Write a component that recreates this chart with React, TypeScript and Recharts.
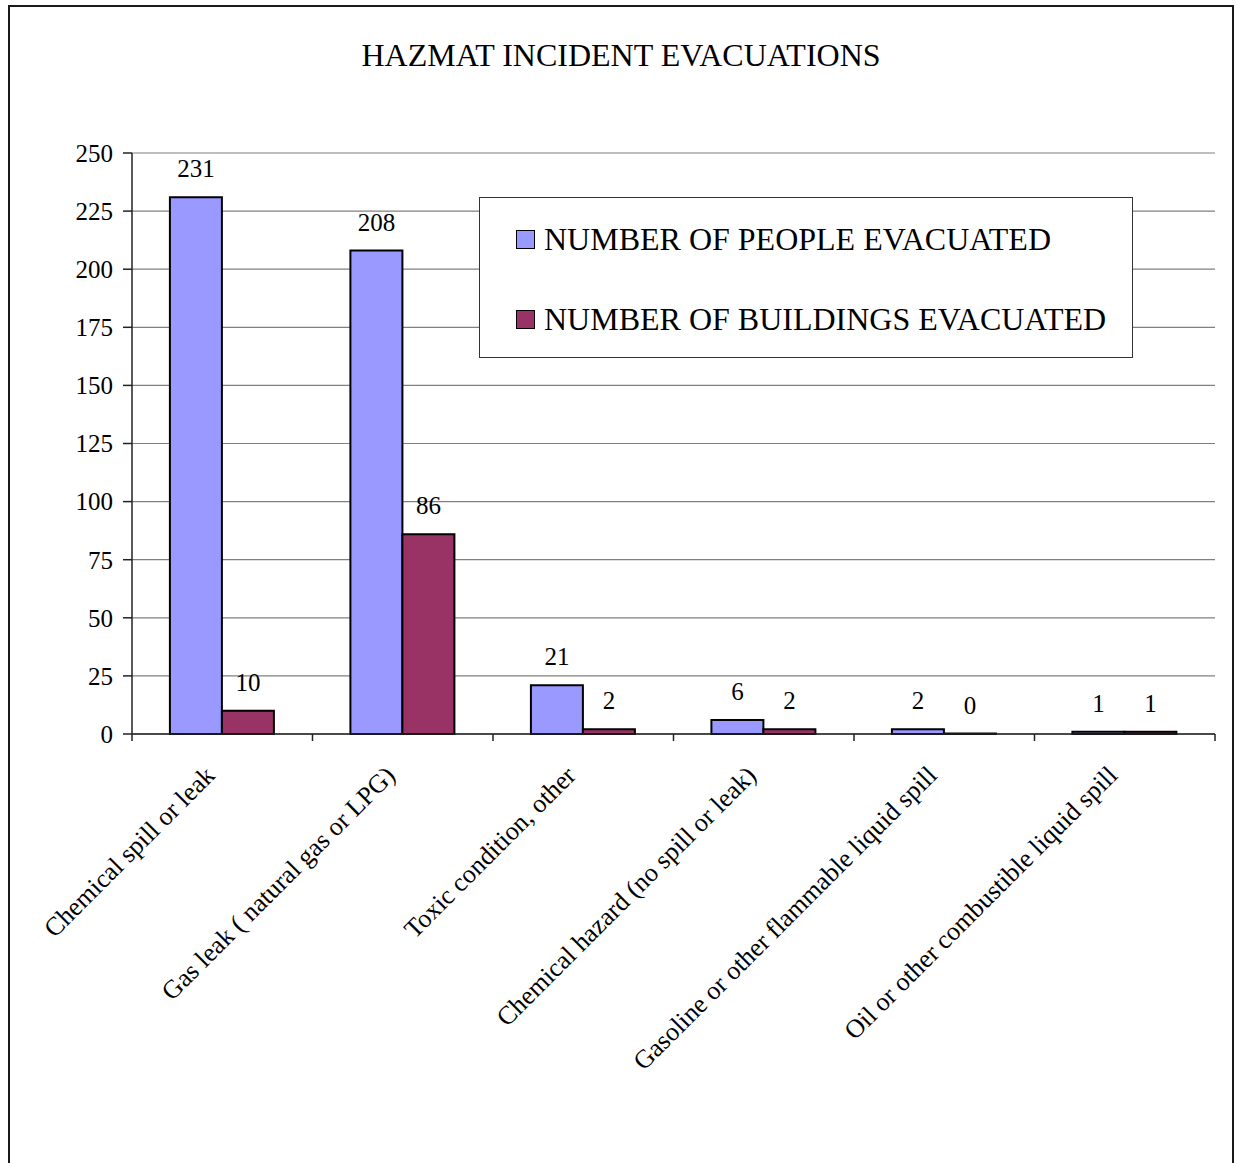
import React from "react";
import {
  BarChart,
  Bar,
  XAxis,
  YAxis,
  CartesianGrid,
  Legend,
  LabelList,
} from "recharts";

const categories = [
  "Chemical spill or leak",
  "Gas leak ( natural gas or LPG)",
  "Toxic condition, other",
  "Chemical hazard (no spill or leak)",
  "Gasoline or other flammable liquid spill",
  "Oil or other combustible liquid spill",
];
const peopleEvacuated = [231, 208, 21, 6, 2, 1];
const buildingsEvacuated = [10, 86, 2, 2, 0, 1];
const yTicks = [0, 25, 50, 75, 100, 125, 150, 175, 200, 225, 250];
const edgeTicks = [0, 1, 2, 3, 4, 5, 6];
const seriesNames = ["NUMBER OF PEOPLE EVACUATED", "NUMBER OF BUILDINGS EVACUATED"];

const data = categories.map((name, i) => ({
  name,
  people: peopleEvacuated[i],
  buildings: buildingsEvacuated[i],
}));

const FONT = '"Liberation Serif", "Times New Roman", serif';
const PEOPLE_COLOR = "#9999ff";
const BUILDINGS_COLOR = "#993366";

// eslint-disable-next-line @typescript-eslint/no-explicit-any
function CategoryTick({ x, y, payload }: any) {
  return (
    <g transform={`translate(${x - 6}, ${y + 42})`}>
      <text
        transform="rotate(-45)"
        textAnchor="end"
        fontFamily={FONT}
        fontSize={26}
        fill="#000"
      >
        {payload.value}
      </text>
    </g>
  );
}

function EmptyTick() {
  return <g />;
}

// eslint-disable-next-line @typescript-eslint/no-explicit-any
function LegendBox({ payload }: any) {
  // keep series order, not the alphabetical one
  const items = [...(payload ?? [])].sort(
    // eslint-disable-next-line @typescript-eslint/no-explicit-any
    (a: any, b: any) => seriesNames.indexOf(a.value) - seriesNames.indexOf(b.value)
  );
  return (
    <div style={legendBoxStyle}>
      {/* eslint-disable-next-line @typescript-eslint/no-explicit-any */}
      {items.map((entry: any, i: number) => (
        <div key={entry.value} style={{ ...legendRowStyle, top: 26 + i * 80 }}>
          <span style={{ ...legendSwatchStyle, background: entry.color }} />
          <span>{entry.value}</span>
        </div>
      ))}
    </div>
  );
}

const labelFormatter = (v: number) => String(v);
// a zero bar still needs a rect so its "0" label gets drawn
const zeroBarSize = (v: number | null | undefined) => (v === 0 ? 0.5 : 0);

export default function App() {
  return (
    <div style={pageStyle}>
      <div style={frameStyle} />
      <div style={titleStyle}>HAZMAT INCIDENT EVACUATIONS</div>
      <div style={{ position: "absolute", left: 0, top: 0 }}>
        <BarChart
          width={1235}
          height={1163}
          data={data}
          margin={{ top: 153, right: 20, bottom: 128, left: 72 }}
          barCategoryGap="21%"
          barGap={0}
        >
          <CartesianGrid
            xAxisId="labels"
            vertical={false}
            stroke="#808080"
            strokeWidth={1.2}
          />
          {/* category boundary ticks, Excel style */}
          <XAxis
            xAxisId="edges"
            type="number"
            dataKey="edge"
            domain={[0, categories.length]}
            ticks={edgeTicks}
            allowDataOverflow
            tick={<EmptyTick />}
            tickSize={7}
            tickLine={{ stroke: "#222", strokeWidth: 1.5 }}
            axisLine={{ stroke: "#222", strokeWidth: 1.5 }}
            height={1}
          />
          <XAxis
            xAxisId="labels"
            dataKey="name"
            interval={0}
            axisLine={false}
            tickLine={false}
            tickSize={0}
            tickMargin={0}
            height={300}
            tick={<CategoryTick />}
          />
          <YAxis
            domain={[0, 250]}
            ticks={yTicks}
            width={60}
            tickSize={9}
            tickMargin={10}
            tick={{ fontSize: 25, fill: "#000", fontFamily: FONT }}
            tickLine={{ stroke: "#222", strokeWidth: 1.5 }}
            axisLine={{ stroke: "#222", strokeWidth: 1.5 }}
          />
          <Legend
            layout="vertical"
            align="center"
            verticalAlign="middle"
            content={<LegendBox />}
            wrapperStyle={{ left: 479, top: 197, width: 654, height: 161 }}
          />
          <Bar
            xAxisId="labels"
            dataKey="people"
            name={seriesNames[0]}
            fill={PEOPLE_COLOR}
            stroke="#000"
            strokeWidth={2}
            isAnimationActive={false}
          >
            <LabelList
              dataKey="people"
              position="top"
              offset={20}
              fontSize={25}
              fill="#000"
              fontFamily={FONT}
              formatter={labelFormatter}
            />
          </Bar>
          <Bar
            xAxisId="labels"
            dataKey="buildings"
            name={seriesNames[1]}
            fill={BUILDINGS_COLOR}
            stroke="#000"
            strokeWidth={2}
            minPointSize={zeroBarSize}
            isAnimationActive={false}
          >
            <LabelList
              dataKey="buildings"
              position="top"
              offset={20}
              fontSize={25}
              fill="#000"
              fontFamily={FONT}
              formatter={labelFormatter}
            />
          </Bar>
        </BarChart>
      </div>
    </div>
  );
}

const pageStyle: React.CSSProperties = {
  position: "absolute",
  left: 0,
  top: 0,
  width: 1235,
  height: 1163,
  overflow: "hidden",
  background: "#fff",
  fontFamily: FONT,
};

const frameStyle: React.CSSProperties = {
  position: "absolute",
  left: 8,
  top: 5,
  width: 1226,
  height: 1200,
  border: "2px solid #1a1a1a",
  boxSizing: "border-box",
};

const titleStyle: React.CSSProperties = {
  position: "absolute",
  left: 0,
  top: 37,
  width: 1242,
  textAlign: "center",
  fontSize: 32,
  color: "#000",
  lineHeight: "36px",
  whiteSpace: "nowrap",
};

const legendBoxStyle: React.CSSProperties = {
  position: "relative",
  width: 654,
  height: 161,
  background: "#fff",
  border: "1.5px solid #333",
  boxSizing: "border-box",
  fontFamily: FONT,
  fontSize: 32,
  color: "#000",
};

const legendRowStyle: React.CSSProperties = {
  position: "absolute",
  left: 36,
  height: 30,
  lineHeight: "30px",
  display: "flex",
  alignItems: "center",
  whiteSpace: "nowrap",
};

const legendSwatchStyle: React.CSSProperties = {
  display: "inline-block",
  width: 19,
  height: 19,
  border: "1.5px solid #000",
  boxSizing: "border-box",
  marginRight: 9,
};
